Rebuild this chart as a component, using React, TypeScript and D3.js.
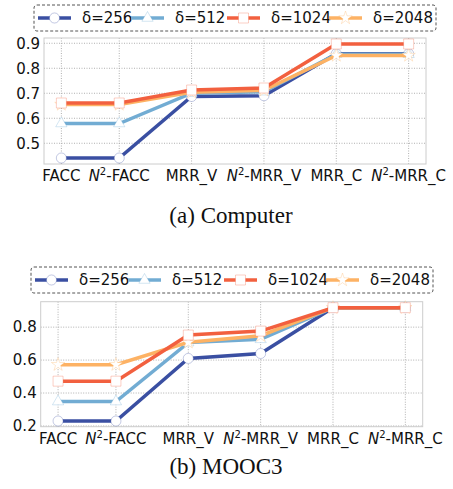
import React from 'react';
import * as d3 from 'd3';

// x categories (FACC sits a bit closer to N²-FACC in the source figure)
const categories = ['FACC', 'N2-FACC', 'MRR_V', 'N2-MRR_V', 'MRR_C', 'N2-MRR_C'];
const xValues = [0.2, 1, 2, 3, 4, 5];

const seriesLabels = ['δ=256', 'δ=512', 'δ=1024', 'δ=2048'];
const seriesColors = ['#3a4fa2', '#72acd3', '#f2603f', '#fdb264'];

// Computer
const computer256 = [0.441, 0.441, 0.687, 0.69, 0.858, 0.858];
const computer512 = [0.579, 0.579, 0.7, 0.706, 0.856, 0.856];
const computer1024 = [0.661, 0.661, 0.713, 0.721, 0.897, 0.897];
const computer2048 = [0.655, 0.655, 0.704, 0.712, 0.851, 0.851];
const computerTicks = [0.5, 0.6, 0.7, 0.8, 0.9];

// MOOC3
const mooc256 = [0.23, 0.23, 0.61, 0.64, 0.918, 0.918];
const mooc512 = [0.348, 0.348, 0.706, 0.726, 0.918, 0.918];
const mooc1024 = [0.472, 0.472, 0.752, 0.776, 0.918, 0.918];
const mooc2048 = [0.572, 0.572, 0.708, 0.748, 0.918, 0.918];
const moocTicks = [0.2, 0.4, 0.6, 0.8];

const symbols = [d3.symbolCircle, d3.symbolTriangle, d3.symbolSquare, d3.symbolStar];
const symbolSizes = [80, 55, 100, 55];
const drawOrder = [0, 1, 3, 2];

const FONT = 'DejaVu Sans, sans-serif';

const CatLabel = ({ name }: { name: string }) => {
  if (name.startsWith('N2-')) {
    return (
      <>
        <tspan fontStyle="italic">N</tspan>
        <tspan dy={-6} fontSize={10}>2</tspan>
        <tspan dy={6}>{name.slice(2)}</tspan>
      </>
    );
  }
  return <>{name}</>;
};

interface PanelProps {
  series: number[][];
  ticks: number[];
  yDomain: [number, number];
  left: number;
  top: number;
  bottom: number;
  legendX: number;
  legendY: number;
  caption: string;
  captionX: number;
  captionY: number;
}

const Panel = ({ series, ticks, yDomain, left, top, bottom, legendX, legendY, caption, captionX, captionY }: PanelProps) => {
  const width = 382;
  const x = d3.scaleLinear().domain([-0.04, 5.24]).range([left, left + width]);
  const y = d3.scaleLinear().domain(yDomain).range([bottom, top]);
  const line = d3.line<number>().x((_, i) => x(xValues[i])).y(d => y(d));
  const legendOffsets = [4, 97, 193, 295];

  return (
    <g>
      {/* legend */}
      <rect x={legendX} y={legendY} width={402} height={26} rx={3} fill="white" stroke="#555" strokeDasharray="3,2" />
      {seriesLabels.map((lab, i) => {
        const hx = legendX + legendOffsets[i];
        const cy = legendY + 13;
        return (
          <g key={lab}>
            <line x1={hx} x2={hx + 33} y1={cy} y2={cy} stroke={seriesColors[i]} strokeWidth={3.5} />
            <path d={d3.symbol(symbols[i], symbolSizes[i])()!} transform={`translate(${hx + 16.5},${cy})`}
              fill="white" stroke={seriesColors[i]} strokeOpacity={0.3} strokeWidth={1} />
            <text x={hx + 44} y={cy} dy="0.35em" fontFamily={FONT} fontSize={15} fill="#111">{lab}</text>
          </g>
        );
      })}

      {/* grid */}
      {ticks.map(t => (
        <line key={t} x1={left} x2={left + width} y1={y(t)} y2={y(t)} stroke="#b0b0b0" strokeDasharray="1,1.5" />
      ))}
      {xValues.map(v => (
        <line key={v} x1={x(v)} x2={x(v)} y1={top} y2={bottom} stroke="#b0b0b0" strokeDasharray="1,1.5" />
      ))}
      <rect x={left} y={top} width={width} height={bottom - top} fill="none" stroke="#cccccc" />

      {/* tick labels */}
      {ticks.map(t => (
        <text key={t} x={left - 4} y={y(t)} dy="0.35em" textAnchor="end" fontFamily={FONT} fontSize={15} fill="#111">
          {t.toFixed(1)}
        </text>
      ))}
      {categories.map((c, i) => (
        <text key={c} x={x(xValues[i])} y={bottom + 17} textAnchor="middle" fontFamily={FONT} fontSize={15} fill="#111">
          <CatLabel name={c} />
        </text>
      ))}

      {/* series */}
      {drawOrder.map(si => (
        <g key={si}>
          <path d={line(series[si])!} fill="none" stroke={seriesColors[si]} strokeWidth={3.5} />
          {series[si].map((v, i) => (
            <path key={i} d={d3.symbol(symbols[si], symbolSizes[si])()!}
              transform={`translate(${x(xValues[i])},${y(v)})`}
              fill="white" stroke={seriesColors[si]} strokeOpacity={0.3} strokeWidth={1} />
          ))}
        </g>
      ))}

      <text x={captionX} y={captionY} textAnchor="middle" fontFamily="Liberation Serif, serif" fontSize={23} fill="#111">
        {caption}
      </text>
    </g>
  );
};

export default function App() {
  return (
    <svg width={453} height={489} style={{ position: 'absolute', left: 0, top: 0, background: 'white' }}>
      <Panel series={[computer256, computer512, computer1024, computer2048]} ticks={computerTicks}
        yDomain={[0.417, 0.921]} left={44} top={38} bottom={164}
        legendX={34} legendY={5} caption="(a)  Computer" captionX={231} captionY={223} />
      <Panel series={[mooc256, mooc512, mooc1024, mooc2048]} ticks={moocTicks}
        yDomain={[0.1955, 0.9545]} left={40.7} top={301.7} bottom={426.7}
        legendX={31} legendY={267} caption="(b)  MOOC3" captionX={226} captionY={474} />
    </svg>
  );
}
